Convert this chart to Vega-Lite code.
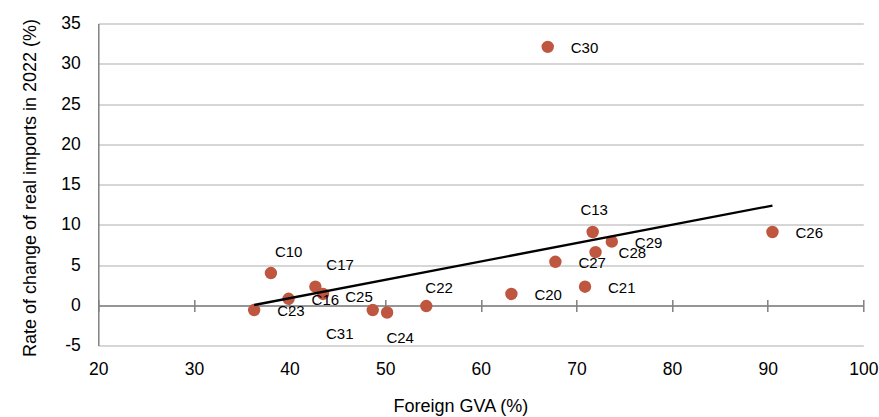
{
  "$schema": "https://vega.github.io/schema/vega-lite/v6.json",
  "width": 765,
  "height": 322,
  "autosize": {"type": "none"},
  "padding": {"left": 98.3, "top": 23.5, "right": 15.7, "bottom": 71.5},
  "background": "white",
  "config": {"view": {"stroke": null}, "font": "Liberation Sans"},
  "data": {
    "values": [
      {"label": "C10", "gva": 38.05, "imports": 4.0},
      {"label": "C13", "gva": 71.7, "imports": 9.1},
      {"label": "C16", "gva": 39.9, "imports": 0.8},
      {"label": "C17", "gva": 42.7, "imports": 2.3},
      {"label": "C20", "gva": 63.2, "imports": 1.4},
      {"label": "C21", "gva": 70.9, "imports": 2.3},
      {"label": "C22", "gva": 54.3, "imports": -0.1},
      {"label": "C23", "gva": 36.3, "imports": -0.6},
      {"label": "C24", "gva": 50.2, "imports": -0.9},
      {"label": "C25", "gva": 48.7, "imports": -0.6},
      {"label": "C26", "gva": 90.5, "imports": 9.1},
      {"label": "C27", "gva": 67.8, "imports": 5.4},
      {"label": "C28", "gva": 72.0, "imports": 6.6},
      {"label": "C29", "gva": 73.7, "imports": 7.9},
      {"label": "C30", "gva": 67.0, "imports": 32.1},
      {"label": "C31", "gva": 43.5, "imports": 1.4}
    ]
  },
  "layer": [
    {
      "mark": {"type": "point", "filled": true, "size": 154, "color": "#BF5640", "opacity": 1},
      "encoding": {
        "x": {
          "field": "gva", "type": "quantitative",
          "scale": {"domain": [20, 100], "nice": false, "zero": false},
          "axis": {
            "orient": "bottom", "offset": -40,
            "values": [20, 30, 40, 50, 60, 70, 80, 90, 100],
            "grid": false, "domain": true, "domainColor": "#808080", "domainWidth": 1.5,
            "ticks": true, "tickColor": "#808080", "tickWidth": 1.5, "tickSize": 6,
            "labelPadding": 63, "labelBaseline": "alphabetic", "labelFontSize": 17.5, "labelColor": "#000000",
            "labelFlush": false, "labelOverlap": false,
            "title": "Foreign GVA (%)", "titleFontSize": 18, "titleFontWeight": "normal", "titleColor": "#000000",
            "titleX": 362, "titleY": 106, "titleBaseline": "alphabetic", "titleAlign": "center"
          }
        },
        "y": {
          "field": "imports", "type": "quantitative",
          "scale": {"domain": [-5, 35], "nice": false, "zero": false},
          "axis": {
            "values": [-5, 0, 5, 10, 15, 20, 25, 30, 35],
            "grid": true, "gridColor": "#c9c9c9", "gridWidth": 1.3,
            "domain": true, "domainColor": "#808080", "domainWidth": 1.5,
            "ticks": false, "labelPadding": 18, "labelFontSize": 17.5, "labelColor": "#000000",
            "labelFlush": false, "labelOverlap": false,
            "labelExpr": "'' + datum.value",
            "title": "Rate of change of real imports in 2022 (%)", "titleFontSize": 18, "titleFontWeight": "normal", "titleColor": "#000000",
            "titleX": -63, "titleY": 164, "titleBaseline": "alphabetic", "titleAlign": "center", "titleAngle": -90
          }
        }
      }
    },
    {
      "transform": [{"regression": "imports", "on": "gva"}],
      "mark": {"type": "line", "color": "#000000", "strokeWidth": 2.3},
      "encoding": {
        "x": {
          "field": "gva", "type": "quantitative",
          "axis": {
            "orient": "top", "offset": -282,
            "values": [20, 30, 40, 50, 60, 70, 80, 90, 100],
            "domain": false, "labels": false, "grid": false,
            "ticks": true, "tickSize": 6, "tickColor": "#808080", "tickWidth": 1.5, "title": null
          }
        },
        "y": {"field": "imports", "type": "quantitative"}
      }
    },
    {
      "transform": [{"filter": {"field": "label", "oneOf": ["C30", "C23", "C16", "C20", "C27", "C21", "C28", "C29", "C26"]}}],
      "mark": {"type": "text", "align": "left", "baseline": "middle", "dx": 23, "dy": 1, "fontSize": 15, "color": "#000000"},
      "encoding": {
        "x": {"field": "gva", "type": "quantitative", "axis": null},
        "y": {"field": "imports", "type": "quantitative"},
        "text": {"field": "label"}
      }
    },
    {
      "transform": [{"filter": {"field": "label", "equal": "C10"}}],
      "mark": {"type": "text", "align": "left", "baseline": "middle", "dx": 4, "dy": -21.5, "fontSize": 15, "color": "#000000"},
      "encoding": {
        "x": {"field": "gva", "type": "quantitative", "axis": null},
        "y": {"field": "imports", "type": "quantitative"},
        "text": {"field": "label"}
      }
    },
    {
      "transform": [{"filter": {"field": "label", "equal": "C17"}}],
      "mark": {"type": "text", "align": "left", "baseline": "middle", "dx": 11, "dy": -22, "fontSize": 15, "color": "#000000"},
      "encoding": {
        "x": {"field": "gva", "type": "quantitative", "axis": null},
        "y": {"field": "imports", "type": "quantitative"},
        "text": {"field": "label"}
      }
    },
    {
      "transform": [{"filter": {"field": "label", "equal": "C31"}}],
      "mark": {"type": "text", "align": "left", "baseline": "middle", "dx": 3, "dy": 40, "fontSize": 15, "color": "#000000"},
      "encoding": {
        "x": {"field": "gva", "type": "quantitative", "axis": null},
        "y": {"field": "imports", "type": "quantitative"},
        "text": {"field": "label"}
      }
    },
    {
      "transform": [{"filter": {"field": "label", "equal": "C25"}}],
      "mark": {"type": "text", "align": "left", "baseline": "middle", "dx": -27.5, "dy": -13.3, "fontSize": 15, "color": "#000000"},
      "encoding": {
        "x": {"field": "gva", "type": "quantitative", "axis": null},
        "y": {"field": "imports", "type": "quantitative"},
        "text": {"field": "label"}
      }
    },
    {
      "transform": [{"filter": {"field": "label", "equal": "C24"}}],
      "mark": {"type": "text", "align": "left", "baseline": "middle", "dx": -0.7, "dy": 26, "fontSize": 15, "color": "#000000"},
      "encoding": {
        "x": {"field": "gva", "type": "quantitative", "axis": null},
        "y": {"field": "imports", "type": "quantitative"},
        "text": {"field": "label"}
      }
    },
    {
      "transform": [{"filter": {"field": "label", "equal": "C22"}}],
      "mark": {"type": "text", "align": "left", "baseline": "middle", "dx": -1, "dy": -18, "fontSize": 15, "color": "#000000"},
      "encoding": {
        "x": {"field": "gva", "type": "quantitative", "axis": null},
        "y": {"field": "imports", "type": "quantitative"},
        "text": {"field": "label"}
      }
    },
    {
      "transform": [{"filter": {"field": "label", "equal": "C13"}}],
      "mark": {"type": "text", "align": "left", "baseline": "middle", "dx": -12.3, "dy": -21.6, "fontSize": 15, "color": "#000000"},
      "encoding": {
        "x": {"field": "gva", "type": "quantitative", "axis": null},
        "y": {"field": "imports", "type": "quantitative"},
        "text": {"field": "label"}
      }
    }
  ],
  "resolve": {"axis": {"x": "independent"}}
}
